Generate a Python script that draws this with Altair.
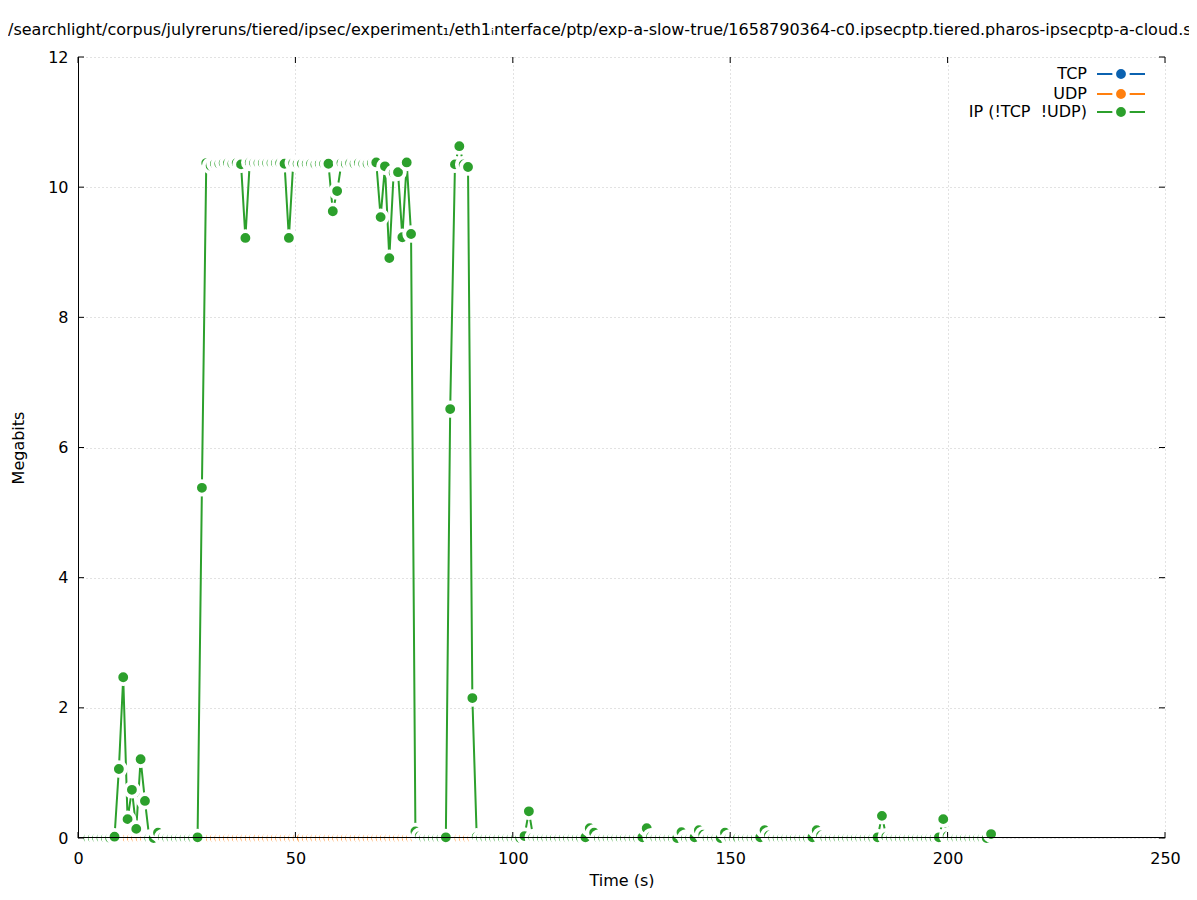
import altair as alt
import pandas as pd

# ---------------- data ----------------
time_s = [
    2.4, 3.4, 4.4, 5.4, 6.4, 7.4, 8.4, 9.4, 10.4, 11.4,
    12.4, 13.4, 14.4, 15.4, 16.4, 17.4, 18.4, 19.5, 20.5, 21.5,
    22.5, 23.5, 24.5, 25.5, 26.5, 27.5, 28.5, 29.5, 30.5, 31.5,
    32.5, 33.5, 34.5, 35.5, 36.5, 37.5, 38.5, 39.5, 40.5, 41.5,
    42.5, 43.5, 44.5, 45.5, 46.5, 47.5, 48.5, 49.5, 50.5, 51.5,
    52.6, 53.6, 54.6, 55.6, 56.6, 57.6, 58.6, 59.6, 60.6, 61.6,
    62.6, 63.6, 64.6, 65.6, 66.6, 67.6, 68.6, 69.6, 70.6, 71.6,
    72.6, 73.6, 74.6, 75.6, 76.6, 77.6, 78.6, 79.6, 80.6, 81.6,
    82.6, 83.6, 84.6, 85.6, 86.7, 87.7, 88.7, 89.7, 90.7, 91.7,
    92.7, 93.7, 94.7, 95.7, 96.7, 97.7, 98.7, 99.7, 100.7, 101.7,
    102.7, 103.7, 104.7, 105.7, 106.7, 107.7, 108.7, 109.7, 110.7, 111.7,
    112.7, 113.7, 114.7, 115.7, 116.7, 117.7, 118.7, 119.8, 120.8, 121.8,
    122.8, 123.8, 124.8, 125.8, 126.8, 127.8, 128.8, 129.8, 130.8, 131.8,
    132.8, 133.8, 134.8, 135.8, 136.8, 137.8, 138.8, 139.8, 140.8, 141.8,
    142.8, 143.8, 144.8, 145.8, 146.8, 147.8, 148.8, 149.8, 150.8, 151.8,
    152.9, 153.9, 154.9, 155.9, 156.9, 157.9, 158.9, 159.9, 160.9, 161.9,
    162.9, 163.9, 164.9, 165.9, 166.9, 167.9, 168.9, 169.9, 170.9, 171.9,
    172.9, 173.9, 174.9, 175.9, 176.9, 177.9, 178.9, 179.9, 180.9, 181.9,
    182.9, 183.9, 184.9, 185.9, 187.0, 188.0, 189.0, 190.0, 191.0, 192.0,
    193.0, 194.0, 195.0, 196.0, 197.0, 198.0, 199.0, 200.0, 201.0, 202.0,
    203.0, 204.0, 205.0, 206.0, 207.0, 208.0, 209.0, 210.0,
]

ip_mbits = [
    0, 0, 0, 0, 0, 0, 0.02, 1.06, 2.47, 0.29,
    0.74, 0.14, 1.21, 0.57, 0, 0, 0.08, 0.01, 0, 0,
    0, 0, 0, 0, 0, 0.01, 5.38, 10.37, 10.33, 10.36,
    10.36, 10.37, 10.37, 10.36, 10.37, 10.35, 9.22, 10.38, 10.37, 10.37,
    10.37, 10.37, 10.37, 10.37, 10.37, 10.36, 9.22, 10.37, 10.36, 10.36,
    10.36, 10.36, 10.35, 10.36, 10.36, 10.36, 9.63, 9.94, 10.37, 10.36,
    10.37, 10.36, 10.37, 10.36, 10.36, 10.37, 10.38, 9.54, 10.32, 8.91,
    10.22, 10.23, 9.23, 10.38, 9.28, 0.10, 0.03, 0, 0, 0,
    0, 0, 0.01, 6.59, 10.35, 10.63, 10.35, 10.31, 2.15, 0.02,
    0, 0, 0, 0, 0, 0, 0, 0, 0, 0,
    0.03, 0.41, 0.01, 0, 0, 0, 0, 0, 0, 0,
    0, 0, 0, 0, 0.01, 0.15, 0.08, 0, 0, 0,
    0, 0, 0, 0, 0, 0, 0, 0.01, 0.15, 0.02,
    0, 0, 0, 0, 0, 0, 0.09, 0, 0, 0.01,
    0.12, 0.05, 0, 0, 0, 0, 0.08, 0, 0, 0,
    0, 0, 0, 0, 0.01, 0.12, 0.04, 0, 0, 0,
    0, 0, 0, 0, 0, 0, 0.01, 0.12, 0.04, 0,
    0, 0, 0, 0, 0, 0, 0, 0, 0, 0,
    0, 0.01, 0.34, 0.02, 0, 0, 0, 0, 0, 0,
    0, 0, 0, 0, 0, 0.01, 0.29, 0.03, 0, 0,
    0, 0, 0, 0, 0, 0, 0, 0.06,
]

# TCP and UDP carry no traffic: every sample reads 0
tcp_mbits = [0.0] * len(time_s)
udp_mbits = [0.0] * len(time_s)

series_names = ["TCP", "UDP", "IP (!TCP\u00a0 !UDP)"]
series_colors = ["#0b62b0", "#ff7f0e", "#2ca02c"]
x_ticks = [0, 50, 100, 150, 200, 250]
y_ticks = [0, 2, 4, 6, 8, 10, 12]

title_text = ("/searchlight/corpus/julyreruns/tiered/ipsec/experiment\u2081/eth1\u1d62nterface/ptp/"
              "exp-a-slow-true/1658790364-c0.ipsecptp.tiered.pharos-ipsecptp-a-cloud.slo")

# ---------------- layout ----------------
W, H = 1087, 781
FONT = "DejaVu Sans"
PT_SIZE = 186
PT_STROKE = 3.8
LINE_W = 2

xscale = alt.Scale(domain=[0, 250], nice=False, zero=False)
yscale = alt.Scale(domain=[0, 12], nice=False, zero=False)

df = pd.DataFrame({"time": time_s, "TCP": tcp_mbits, "UDP": udp_mbits, "IP": ip_mbits})

x_axis = alt.Axis(values=x_ticks, title="Time (s)", grid=True, gridColor="#c4c4c4",
                  gridDash=[1, 3], gridWidth=1, domain=False, ticks=False,
                  labelFontSize=16, labelColor="black", labelPadding=12, labelFlush=False,
                  titleFontSize=16, titleFontWeight="normal", titleColor="black",
                  titlePadding=6, format="d")
y_axis = alt.Axis(values=y_ticks, title="Megabits", grid=True, gridColor="#c4c4c4",
                  gridDash=[1, 3], gridWidth=1, domain=False, ticks=False,
                  labelFontSize=16, labelColor="black", labelPadding=10, labelFlush=False,
                  titleFontSize=16, titleFontWeight="normal", titleColor="black",
                  titlePadding=21, format="d")

base = alt.Chart(df)
dummy = alt.Chart(pd.DataFrame({"k": [0]}))

layers = []
for col, name, color in zip(["TCP", "UDP", "IP"], series_names, series_colors):
    xenc = alt.X("time:Q", scale=xscale, axis=x_axis)
    yenc = alt.Y(f"{col}:Q", scale=yscale, axis=y_axis)
    layers.append(base.mark_line(color=color, strokeWidth=LINE_W).encode(x=xenc, y=yenc))
    layers.append(base.mark_circle(color=color, opacity=1, size=PT_SIZE, stroke="white",
                                   strokeWidth=PT_STROKE, strokeOpacity=1).encode(x=xenc, y=yenc))

# white legend box (over the grid, under the legend)
layers.append(dummy.mark_rect(color="white").encode(
    x=alt.value(885), x2=alt.value(1086), y=alt.value(3), y2=alt.value(66)))

# border (left and bottom) and inward ticks on all four sides
layers.append(dummy.mark_rule(color="black", strokeWidth=1).encode(
    x=alt.value(0.5), y=alt.value(0), y2=alt.value(H)))
layers.append(dummy.mark_rule(color="black", strokeWidth=1).encode(
    x=alt.value(0), x2=alt.value(W), y=alt.value(H - 0.5)))

xt = alt.Chart(pd.DataFrame({"t": x_ticks}))
yt = alt.Chart(pd.DataFrame({"t": y_ticks}))
layers.append(xt.mark_rule(color="black").encode(
    x=alt.X("t:Q", scale=xscale, axis=x_axis), y=alt.value(H), y2=alt.value(H - 6)))
layers.append(xt.mark_rule(color="black").encode(
    x=alt.X("t:Q", scale=xscale, axis=x_axis), y=alt.value(0), y2=alt.value(6)))
layers.append(yt.mark_rule(color="black").encode(
    y=alt.Y("t:Q", scale=yscale, axis=y_axis), x=alt.value(0), x2=alt.value(6)))
layers.append(yt.mark_rule(color="black").encode(
    y=alt.Y("t:Q", scale=yscale, axis=y_axis), x=alt.value(W), x2=alt.value(W - 6)))

# legend (gnuplot style: label, then line-point-line sample)
row_y = [17, 37, 55]
for name, color, ry in zip(series_names, series_colors, row_y):
    leg = alt.Chart(pd.DataFrame({"name": [name]}))
    layers.append(leg.mark_text(align="right", baseline="middle", fontSize=16, font=FONT,
                                color="black").encode(
        text="name:N", x=alt.value(1009), y=alt.value(ry)))
    layers.append(leg.mark_rule(color=color, strokeWidth=LINE_W).encode(
        x=alt.value(1019), x2=alt.value(1067), y=alt.value(ry)))
    layers.append(leg.mark_circle(color=color, opacity=1, size=PT_SIZE, stroke="white",
                                  strokeWidth=PT_STROKE).encode(
        x=alt.value(1043), y=alt.value(ry)))

chart = alt.layer(*layers).properties(
    width=W, height=H,
    autosize=alt.AutoSizeParams(type="none"),
    padding={"left": 70, "top": 49, "right": 24, "bottom": 50},
    title=alt.TitleParams(text=title_text, anchor="start", frame="group", dx=-70,
                          fontSize=16, font=FONT, fontWeight="normal", color="black",
                          offset=-5, baseline="bottom"),
).configure(font=FONT).configure_view(stroke=None)

chart.save("out.html", embed_options={"renderer": "svg", "actions": False})
